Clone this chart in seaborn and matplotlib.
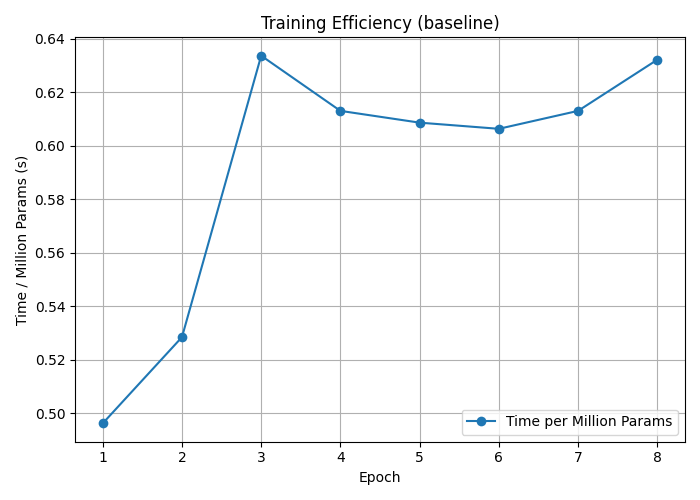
import matplotlib
matplotlib.use("Agg")
import matplotlib.pyplot as plt
import seaborn as sns
import pandas as pd

epochs = [1, 2, 3, 4, 5, 6, 7, 8]
time_per_mparams = [0.4963, 0.5285, 0.6336, 0.6130, 0.6086, 0.6063, 0.6130, 0.6321]

df = pd.DataFrame({"Epoch": epochs, "Time": time_per_mparams})

fig, ax = plt.subplots(figsize=(7, 5), dpi=100)
sns.lineplot(data=df, x="Epoch", y="Time", marker="o", markersize=7,
             markeredgewidth=0, color="#1f77b4", label="Time per Million Params", ax=ax)
ax.set_title("Training Efficiency (baseline)")
ax.set_xlabel("Epoch")
ax.set_ylabel("Time / Million Params (s)")
ax.set_xticks(epochs)
ax.grid(True)
ax.legend(loc="lower right")
fig.tight_layout()
fig.savefig("out.png")
